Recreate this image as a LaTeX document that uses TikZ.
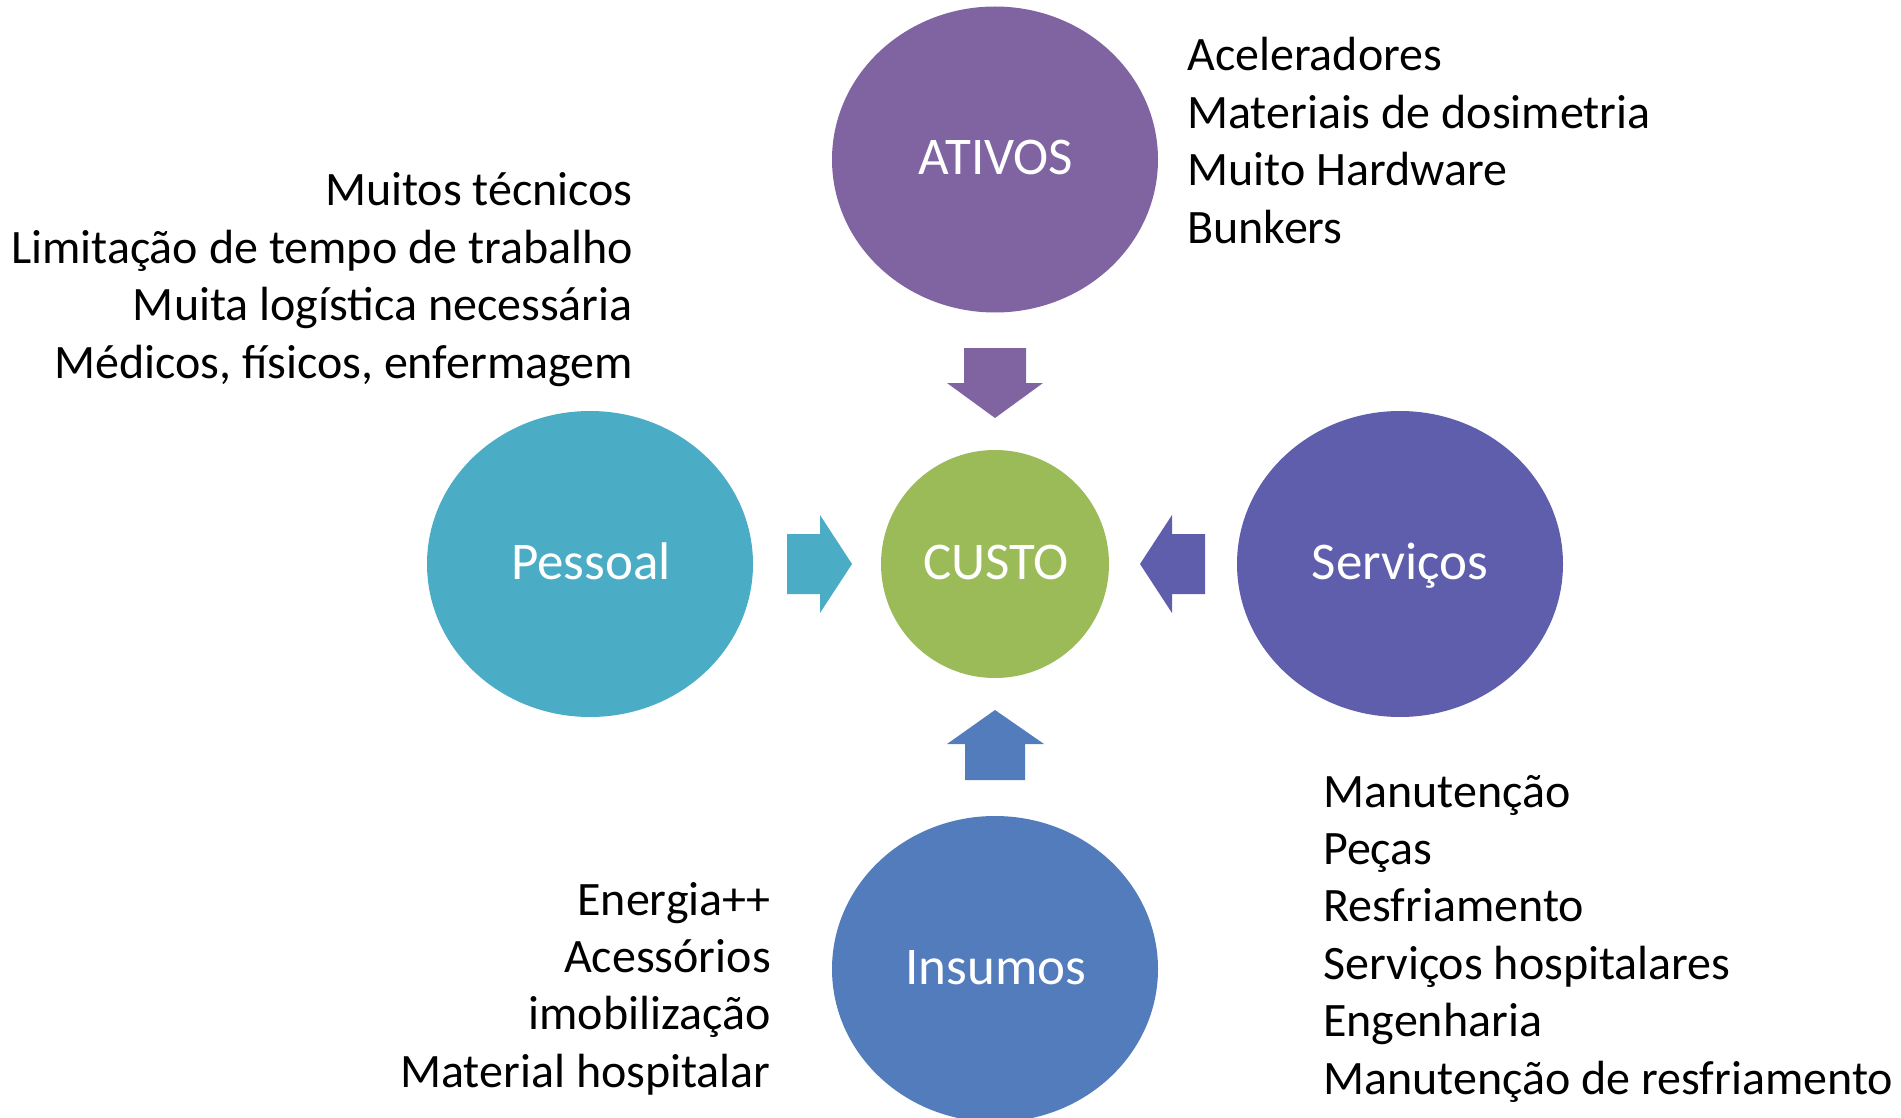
\documentclass[tikz,border=0pt]{standalone}
\usepackage{fontspec}
\setmainfont{Carlito}
\definecolor{cAtivos}{HTML}{8064A2}
\definecolor{cPessoal}{HTML}{4BACC6}
\definecolor{cServicos}{HTML}{5F5EAD}
\definecolor{cInsumos}{HTML}{537CBC}
\definecolor{cCusto}{HTML}{9BBB59}
\tikzset{
  blob/.style={ellipse, minimum width=326pt, minimum height=306pt, inner sep=0pt},
  core/.style={ellipse, minimum width=228pt, minimum height=228pt, inner sep=0pt},
  wlabel/.style={text=white, font=\fontsize{53}{60}\selectfont, inner sep=0pt, anchor=base},
  litem/.style={font=\fontsize{48}{57.5}\selectfont, inner sep=0pt},
}
\usetikzlibrary{shapes.geometric}
\begin{document}
\begin{tikzpicture}[x=1pt,y=-1pt]
\useasboundingbox (0,0) rectangle (1901,1118);
\begin{scope}
\clip (0,0) rectangle (1901,1118);
% ellipses
\node[blob, fill=cAtivos] (ativos) at (995,159.5) {};
\node[blob, fill=cPessoal] (pessoal) at (590,564) {};
\node[blob, fill=cServicos] (servicos) at (1400,564) {};
\node[blob, fill=cInsumos] (insumos) at (995,969) {};
\node[core, fill=cCusto] (custo) at (995,564) {};
\end{scope}
% labels in ellipses
\node[wlabel] (tativos) at (996,174.5) {ATIVOS};
\node[wlabel] (tpessoal) at (591,579) {Pessoal};
\node[wlabel] (tservicos) at (1400,579) {Serviços};
\node[wlabel] (tinsumos) at (996,984) {Insumos};
\node[wlabel] (tcusto) at (996,579) {CUSTO};
% block arrows
\fill[cAtivos] (964,348) -- (1026,348) -- (1026,383) -- (1043,383) -- (995,418) -- (947,383) -- (964,383) -- cycle;
\fill[cInsumos] (965,780) -- (1025,780) -- (1025,744) -- (1044,744) -- (995,710) -- (947,744) -- (965,744) -- cycle;
\fill[cPessoal] (787,534) -- (820,534) -- (820,515) -- (852,564) -- (820,613) -- (820,594) -- (787,594) -- cycle;
\fill[cServicos] (1205,534) -- (1172,534) -- (1172,515) -- (1140,564) -- (1172,613) -- (1172,594) -- (1205,594) -- cycle;
% ATIVOS list
\foreach \t [count=\i] in {Aceleradores, Materiais de dosimetria, Muito Hardware, Bunkers}
  \node[litem, anchor=base west] (la\i) at (1187,{71+57.4*(\i-1)}) {\t};
% Pessoal list
\foreach \t [count=\i] in {Muitos técnicos, Limitação de tempo de trabalho, Muita logística necessária, {Médicos, físicos, enfermagem}}
  \node[litem, anchor=base east] (lp\i) at (633,{206+57.4*(\i-1)}) {\t};
% Insumos list
\foreach \t [count=\i] in {Energia++, Acessórios, imobilização, Material hospitalar}
  \node[litem, anchor=base east] (li\i) at (771,{915+57.4*(\i-1)}) {\t};
% Servicos list
\foreach \t [count=\i] in {Manutenção, Peças, Resfriamento, Serviços hospitalares, Engenharia, Manutenção de resfriamento}
  \node[litem, anchor=base west] (ls\i) at (1323,{807+57.4*(\i-1)}) {\t};
\end{tikzpicture}
\end{document}
